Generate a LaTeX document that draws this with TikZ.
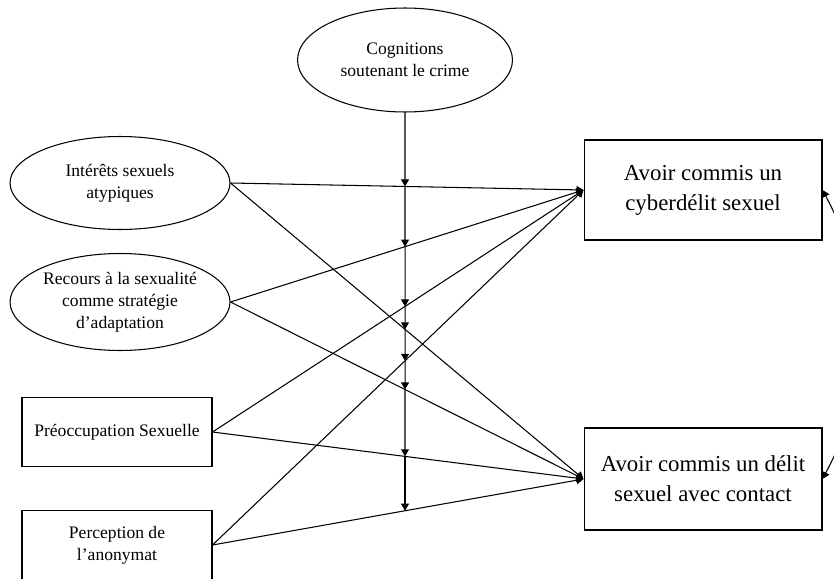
\documentclass[tikz,border=0pt]{standalone}
\usepackage{fontspec}
\setmainfont{Liberation Serif}
\usetikzlibrary{arrows.meta,shapes.geometric}
\tikzset{
  oval/.style={draw,ellipse,inner sep=0pt,align=center,font=\fontsize{10}{12.5}\selectfont},
  smallbox/.style={draw,rectangle,inner sep=0pt,align=center,minimum width=3.8cm,minimum height=1.38cm,font=\fontsize{10}{12.5}\selectfont},
  outbox/.style={draw,rectangle,inner sep=0pt,align=center,minimum width=4.76cm,minimum height=2cm,font=\fontsize{13}{17}\selectfont},
  link/.style={->},
  covar/.style={<->}
}

\begin{document}
\begin{tikzpicture}[x=0.02cm,y=-0.02cm,line width=0.6pt,>={Triangle[length=4pt,width=4.5pt]}]
  \clip (0,0) rectangle (834,578);
  \node[oval,minimum width=4.3cm,minimum height=2.08cm] (cog) at (405,60) {Cognitions\\soutenant le crime};
  \node[oval,minimum width=4.4cm,minimum height=1.86cm] (int) at (120,183) {Intérêts sexuels\\atypiques};
  \node[oval,minimum width=4.4cm,minimum height=1.94cm] (rec) at (120,302) {Recours à la sexualité\\comme stratégie\\d’adaptation};
  \node[smallbox] (pre) at (117,432) {Préoccupation Sexuelle};
  \node[smallbox] (per) at (117,545) {Perception de\\l’anonymat};
  \node[outbox] (cyb) at (703,190) {Avoir commis un\\cyberdélit sexuel};
  \node[outbox,minimum height=2.04cm] (con) at (703,479) {Avoir commis un délit\\sexuel avec contact};
  \coordinate (bot) at (405,578);
  % direct effects
  \foreach \a in {int,rec,pre,per}{
    \draw[link] (\a.east) -- (cyb.west);
    \draw[link] (\a.east) -- (con.west);}
  % moderation by the cognitions
  \foreach \a/\b [count=\i] in {int/cyb,rec/cyb,pre/cyb,int/con,per/cyb,rec/con,pre/con,per/con}{
    \coordinate (m\i) at (intersection of \a.east--\b.west and cog.south--bot);}
  \draw[link] (cog.south) -- (m1);
  \foreach \i [evaluate=\i as \j using int(\i+1)] in {1,...,7}{\draw[link] (m\i) -- (m\j);}
  % covariance of the outcomes
  \draw[covar] (cyb.east) to[out=-62,in=62] (con.east);
\end{tikzpicture}
\end{document}
